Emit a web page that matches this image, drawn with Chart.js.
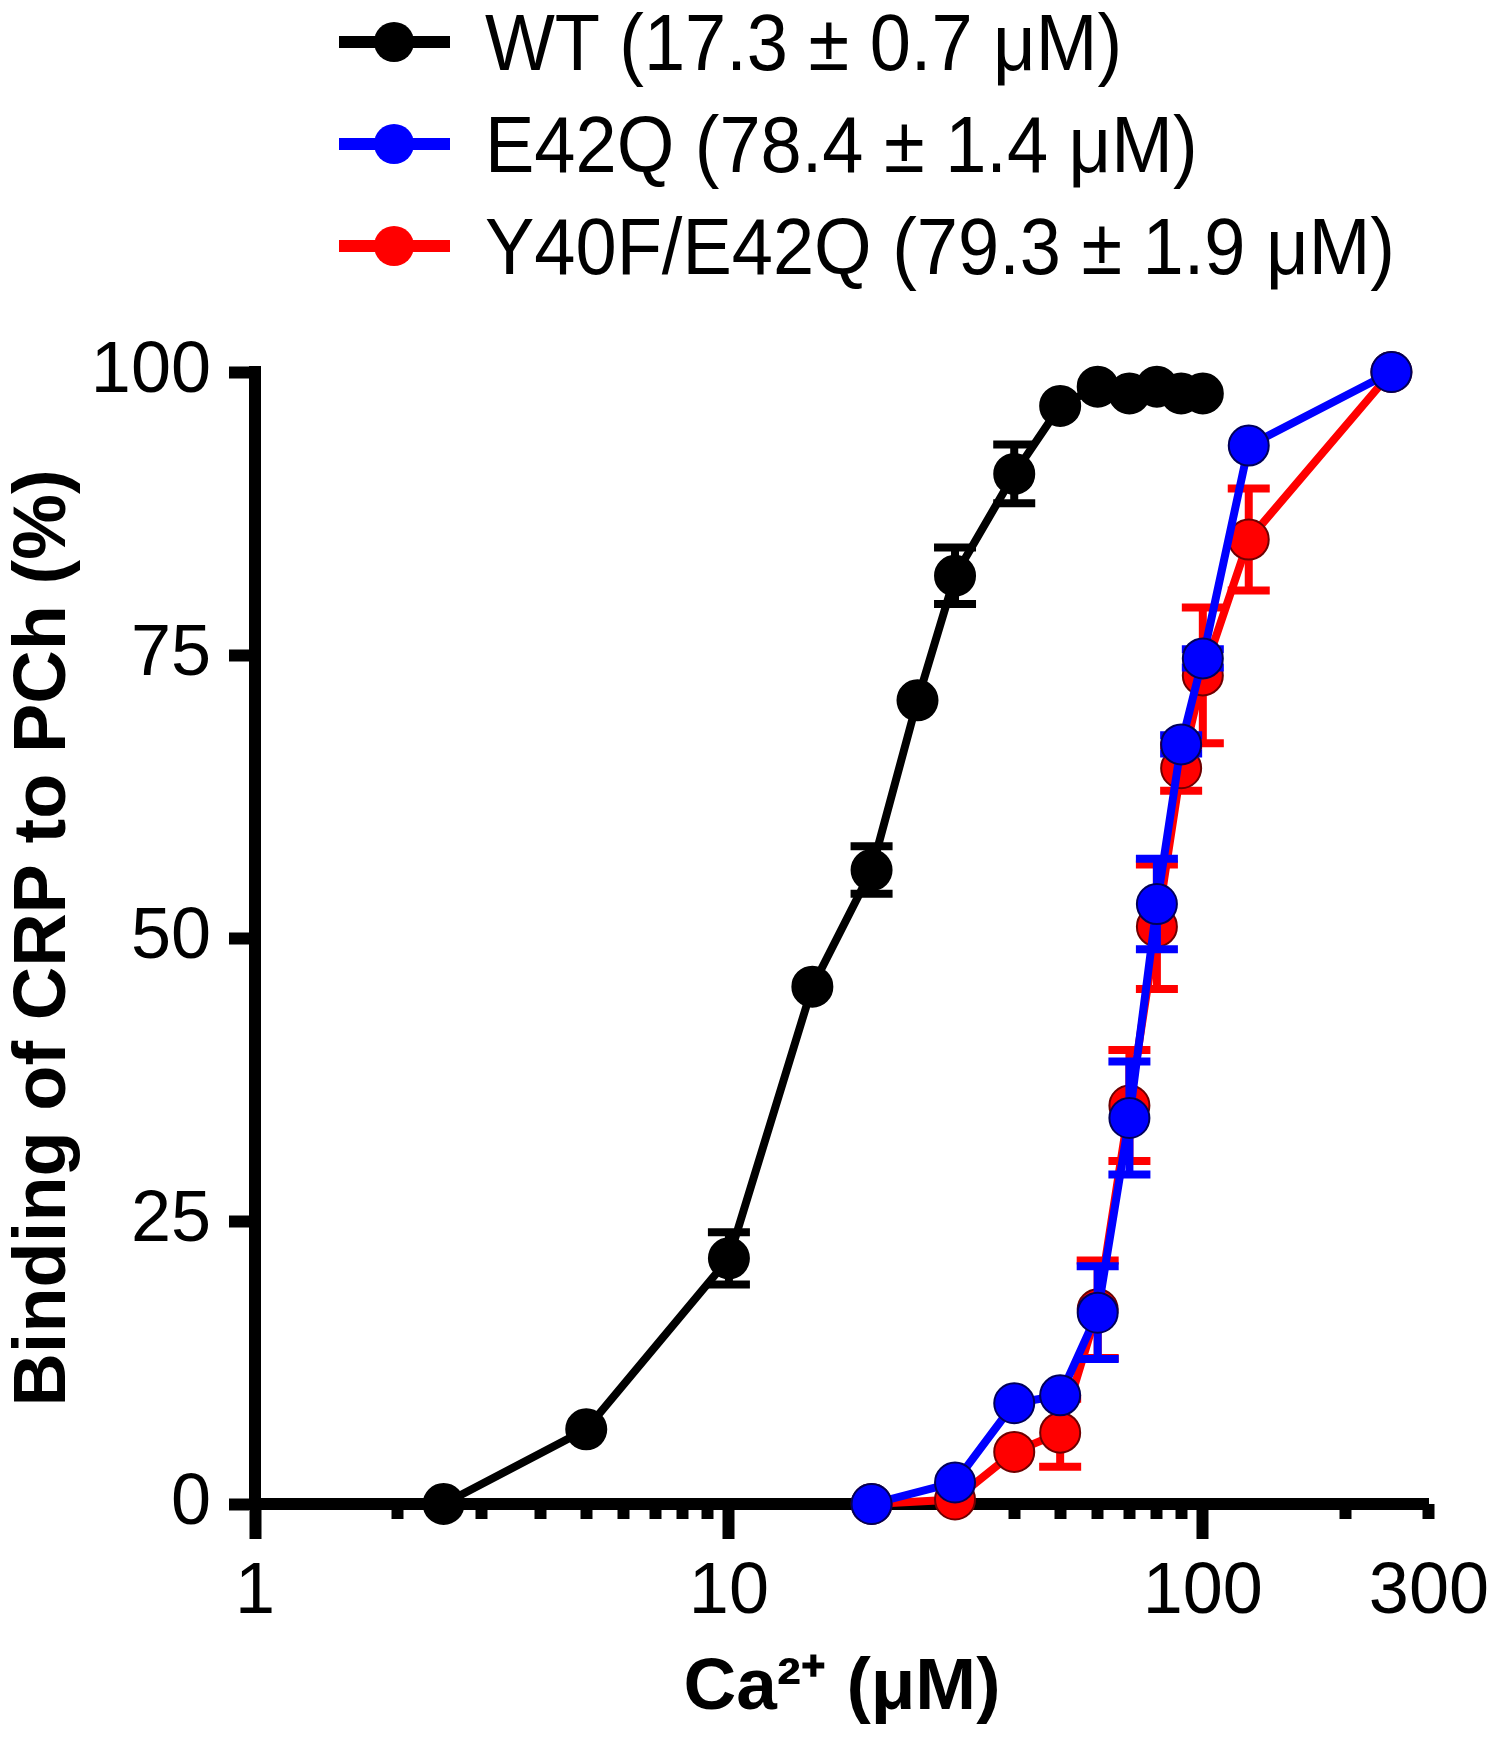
<!DOCTYPE html>
<html>
<head>
<meta charset="utf-8">
<script src="https://cdn.jsdelivr.net/npm/chart.js@4.4.1/dist/chart.umd.min.js"></script>
<style>
  html, body { margin: 0; padding: 0; background: #fff; }
  #wrap { position: relative; width: 1500px; height: 1741px; }
  #chart { position: absolute; left: 0; top: 0; }
  .legend { position: absolute; left: 339px; top: 0; font-family: "Liberation Sans", Arial, sans-serif; font-size: 74px; color: #000; }
  .row { position: absolute; left: 0; height: 84px; display: flex; align-items: center; white-space: nowrap; }
  .swatch { position: relative; width: 111px; height: 84px; flex: none; }
  .swatch .ln { position: absolute; left: 0; right: 0; top: 36px; height: 12px; }
  .swatch .dot { position: absolute; left: 35px; top: 22px; width: 40px; height: 40px; border-radius: 50%; }
  .label { margin-left: 35px; display: inline-block; transform: scaleY(1.07); }
</style>
</head>
<body>
<div id="wrap">
  <canvas id="chart" width="1500" height="1741"></canvas>
  <div class="legend" id="legend"></div>
</div>
<script>
// Ca2+ concentrations (uM) and % binding
const wtConc      = [2.5, 5, 10, 15, 20, 25, 30, 40, 50, 60, 70, 80, 90, 100];
const wtBinding   = [0, 6.6, 21.7, 45.7, 56, 71, 82, 91, 97, 98.7, 98.1, 98.7, 98.1, 98.1];
const wtSem       = [0, 0, 2.3, 0, 2.1, 0, 2.5, 2.6, 0, 0, 0, 0, 0, 0];

const mutConc     = [20, 30, 40, 50, 60, 70, 80, 90, 100, 125, 250];
const e42qBinding = [0, 1.9, 8.9, 9.6, 16.9, 34.1, 53, 67.1, 74.7, 93.5, 100];
const e42qSem     = [0, 0, 0, 0, 4.1, 5.0, 4.0, 0.8, 0.8, 0, 0];
const y40fBinding = [0, 0.4, 4.6, 6.3, 17.2, 35.2, 51, 65, 73.2, 85.2, 100];
const y40fSem     = [0, 0, 0, 3.0, 4.3, 4.9, 5.5, 2.0, 6.0, 4.5, 0];

const seriesNames = ['WT (17.3 ± 0.7 μM)', 'E42Q (78.4 ± 1.4 μM)', 'Y40F/E42Q (79.3 ± 1.9 μM)'];
const seriesColors = ['#000000', '#0000ff', '#ff0000'];
const seriesEdges  = ['#000000', '#00005a', '#6e0000'];

const xMajorTicks = [1, 10, 100, 300];
const xMinorTicks = [2, 3, 4, 5, 6, 7, 8, 9, 20, 30, 40, 50, 60, 70, 80, 90, 200, 300];
const yTicks = [0, 25, 50, 75, 100];

const FONT = "'Liberation Sans', Arial, sans-serif";

function pts(xs, ys) {
  return xs.map((x, i) => ({ x: x, y: ys[i] }));
}

function makeSet(i, xs, ys, errs) {
  return {
    label: seriesNames[i],
    data: pts(xs, ys),
    errors: errs,
    borderColor: seriesColors[i],
    backgroundColor: seriesColors[i],
    borderWidth: 8,
    pointRadius: 20,
    pointBackgroundColor: seriesColors[i],
    pointBorderColor: seriesEdges[i],
    pointBorderWidth: 2,
    tension: 0,
    clip: false,
  };
}

// draws each dataset's SEM bars just before the dataset itself
const errorBars = {
  id: 'errorBars',
  beforeDatasetDraw(chart, args) {
    const ds = chart.data.datasets[args.index];
    if (!ds.errors) return;
    const yScale = chart.scales.y;
    const ctx = chart.ctx;
    ctx.save();
    ctx.strokeStyle = ds.borderColor;
    ctx.lineWidth = 8;
    args.meta.data.forEach((pt, i) => {
      const e = ds.errors[i];
      if (!e) return;
      const v = ds.data[i].y;
      const top = yScale.getPixelForValue(v + e);
      const bot = yScale.getPixelForValue(v - e);
      ctx.beginPath();
      ctx.moveTo(pt.x, top); ctx.lineTo(pt.x, bot);
      ctx.moveTo(pt.x - 21, top); ctx.lineTo(pt.x + 21, top);
      ctx.moveTo(pt.x - 21, bot); ctx.lineTo(pt.x + 21, bot);
      ctx.stroke();
    });
    ctx.restore();
  }
};

const chart = new Chart(document.getElementById('chart'), {
  type: 'line',
  data: {
    datasets: [
      makeSet(0, wtConc, wtBinding, wtSem),
      makeSet(1, mutConc, e42qBinding, e42qSem),
      makeSet(2, mutConc, y40fBinding, y40fSem),
    ],
  },
  plugins: [errorBars],
  options: {
    responsive: false,
    animation: false,
    layout: { padding: { left: 0, right: 70, top: 372, bottom: 0 } },
    plugins: { legend: { display: false }, tooltip: { enabled: false } },
    scales: {
      x: {
        type: 'logarithmic',
        min: 1,
        max: 300,
        position: 'bottom',
        afterFit: (s) => { s.height = 237; },
        afterBuildTicks: (s) => { s.ticks = xMajorTicks.map(v => ({ value: v })); },
        border: { display: true, color: '#000', width: 12 },
        grid: {
          drawOnChartArea: false,
          tickLength: 35,
          tickWidth: 12,
          tickColor: (c) => (c.tick && c.tick.value === 300 ? 'rgba(0,0,0,0)' : '#000'),
        },
        ticks: {
          autoSkip: false,
          maxRotation: 0,
          padding: 11,
          color: '#000',
          font: { family: FONT, size: 72 },
          callback: (v) => String(v),
        },
        title: {
          display: true,
          text: 'Ca²⁺ (μM)',
          color: '#000',
          font: { family: FONT, size: 73, weight: 'bold' },
          padding: { top: 0, bottom: 8 },
        },
      },
      xMinor: {
        type: 'logarithmic',
        min: 1,
        max: 300,
        position: { y: 0 },
        afterBuildTicks: (s) => { s.ticks = xMinorTicks.map(v => ({ value: v })); },
        border: { display: false },
        grid: { drawOnChartArea: false, tickLength: 15, tickWidth: 12, tickColor: '#000' },
        ticks: { display: false, autoSkip: false },
      },
      y: {
        min: 0,
        max: 100,
        afterFit: (s) => { s.width = 255; },
        afterBuildTicks: (s) => { s.ticks = yTicks.map(v => ({ value: v })); },
        border: { display: true, color: '#000', width: 12 },
        grid: { drawOnChartArea: false, tickLength: 26, tickWidth: 12, tickColor: '#000' },
        ticks: {
          padding: 18,
          color: '#000',
          font: { family: FONT, size: 72 },
        },
        title: {
          display: true,
          text: 'Binding of CRP to PCh (%)',
          color: '#000',
          font: { family: FONT, size: 74, weight: 'bold' },
          padding: { top: 0, bottom: 0 },
        },
      },
    },
  },
});

// vertical legend, line with a dot, like the original figure
const legendEl = document.getElementById('legend');
const rowCenters = [42, 144, 246];
seriesNames.forEach((name, i) => {
  const row = document.createElement('div');
  row.className = 'row';
  row.style.top = (rowCenters[i] - 42) + 'px';
  row.innerHTML =
    '<div class="swatch"><div class="ln" style="background:' + seriesColors[i] + '"></div>' +
    '<div class="dot" style="background:' + seriesColors[i] + '"></div></div>' +
    '<span class="label">' + name + '</span>';
  legendEl.appendChild(row);
});
</script>
</body>
</html>
